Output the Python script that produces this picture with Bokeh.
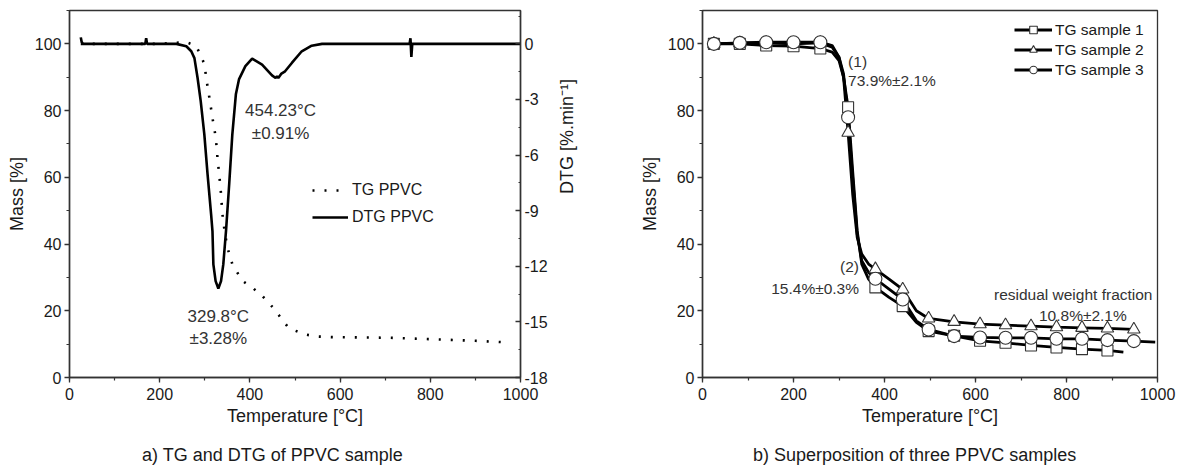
import math
from bokeh.plotting import figure
from bokeh.models import (Range1d, LinearAxis, SingleIntervalTicker, Legend,
                          LegendItem, PrintfTickFormatter, Div)
from bokeh.layouts import row, column
from bokeh.embed import file_html
from bokeh.resources import INLINE
from bokeh.core.properties import value

FONT = "Liberation Sans"
INK = "#1a1a1a"

# ---------------- data: panel a) TG / DTG of PPVC ----------------
tg_T = [25, 100, 200, 259, 281, 299, 304, 310, 314, 318, 323, 326, 328, 331, 334,
        336, 338, 340, 345, 350, 361, 383, 405, 427, 453, 468, 485, 501, 523, 547,
        580, 650, 712, 800, 900, 975]
tg_mass = [100, 100, 100, 100.5, 99.4, 94, 89, 84, 80.5, 77, 73, 69.5, 66, 62, 58,
           55, 51, 47.6, 43, 39, 34, 29, 27, 24.5, 20.7, 18, 15, 14, 12.9, 12.3,
           12.1, 12.0, 11.9, 11.5, 11.0, 10.5]

dtg_T = [25, 27, 30, 60, 100, 140, 168, 170, 172, 200, 237, 259, 270, 277, 284,
         291, 299, 306, 314, 317, 319, 324, 330, 336, 341, 347, 354, 361, 369, 376,
         390, 405, 427, 449, 457, 460, 463, 470, 478, 493, 515, 537, 560, 650, 754,
         756, 758, 760, 800, 900, 1000]
dtg_val = [0.35, 0.1, 0, 0, 0, 0, 0, 0.3, 0, 0, 0, -0.13, -0.4, -0.77, -1.84,
           -3.1, -4.9, -7.0, -9.2, -10.1, -11.9, -12.8, -13.2, -12.8, -11.9, -10.1,
           -7.6, -4.9, -2.7, -1.9, -1.2, -0.8, -1.12, -1.7, -1.84, -1.75, -1.84,
           -1.6, -1.48, -1.03, -0.4, -0.1, 0, 0, 0, 0.3, -0.7, 0, 0, 0, 0]

a_ann_T = [468, 468, 330, 330]
a_ann_mass = [80, 73, 18.3, 11.7]
a_ann_text = ["454.23°C", "±0.91%", "329.8°C", "±3.28%"]

# ---------------- data: panel b) three samples ----------------
line_T = [25, 82, 140, 200, 259, 285, 300, 310, 320, 330, 340, 350, 365, 380, 410,
          440, 470, 497, 553, 610, 666, 722, 778, 834, 890]
s1_line = [100, 100, 99.5, 99.3, 98.6, 97.5, 95, 90, 81, 62, 44, 34, 29.5, 27, 24,
           21.4, 16.5, 13.9, 12.5, 11, 10.4, 9.6, 9.0, 8.5, 8.1]
s2_line = [100, 100.2, 100.3, 100, 100.3, 99, 96, 90, 73.4, 55, 42, 37, 34, 32.5,
           29.5, 26.4, 20, 17.7, 16.7, 16, 15.7, 15.4, 15.1, 14.9, 14.7]
s3_line = [100, 100.3, 100.5, 100.5, 100.5, 99.5, 96, 91, 78, 60, 43, 35, 31.5,
           29.6, 26.5, 23.4, 17, 14.4, 12.4, 12, 11.9, 11.9, 11.6, 11.6, 11.2]
s1_tail_T, s1_tail = [925], [7.6]
s2_tail_T, s2_tail = [948], [14.4]
s3_tail_T, s3_tail = [948, 995], [10.9, 10.6]

mark_T = [25, 82, 140, 200, 259, 320, 380, 440, 497, 553, 610, 666, 722, 778, 834,
          890, 948]
s1_mark = [100, 100, 99.5, 99.3, 98.6, 81, 27, 21.4, 13.9, 12.5, 11, 10.4, 9.6,
           9.0, 8.5, 8.1]
s2_mark = [100, 100.2, 100.3, 100, 100.3, 73.4, 32.5, 26.4, 17.7, 16.7, 16, 15.7,
           15.4, 15.1, 14.9, 14.7, 14.4]
s3_mark = [100, 100.3, 100.5, 100.5, 100.5, 78, 29.6, 23.4, 14.4, 12.4, 12, 11.9,
           11.9, 11.6, 11.6, 11.2, 10.9]

b_ann_T = [320, 320, 344, 344, 989, 836]
b_ann_mass = [94.7, 89, 33.3, 26.7, 24.8, 18.7]
b_ann_text = ["(1)", "73.9%±2.1%", "(2)", "15.4%±0.3%", "residual weight fraction",
              "10.8%±2.1%"]
b_ann_align = ["left", "left", "right", "right", "right", "center"]

captions = ["a) TG and DTG of PPVC sample", "b) Superposition of three PPVC samples"]


def style_axis(ax, tick_in=0, tick_out=5):
    ax.axis_line_color = "#333333"
    ax.axis_line_width = 1.5
    ax.major_tick_line_color = "#333333"
    ax.minor_tick_line_color = "#333333"
    ax.major_tick_line_width = 1.3
    ax.minor_tick_line_width = 1.2
    ax.major_tick_in = tick_in
    ax.major_tick_out = tick_out
    ax.minor_tick_in = 2 if tick_in else 0
    ax.minor_tick_out = 0 if tick_in else 3
    ax.major_label_text_font = FONT
    ax.major_label_text_font_size = "16px"
    ax.major_label_text_color = INK
    ax.axis_label_text_font = FONT
    ax.axis_label_text_font_size = "18px"
    ax.axis_label_text_font_style = "normal"
    ax.axis_label_text_color = INK


def base_fig(left, right):
    p = figure(width=589, height=436, x_range=Range1d(0, 1000), y_range=Range1d(0, 110),
               output_backend="svg", toolbar_location=None,
               min_border_left=left, min_border_right=right,
               min_border_top=10, min_border_bottom=59)
    p.xgrid.visible = False
    p.ygrid.visible = False
    p.outline_line_color = "#333333"
    p.outline_line_width = 1.3
    p.xaxis.ticker = SingleIntervalTicker(interval=200, num_minor_ticks=2)
    p.yaxis.ticker = SingleIntervalTicker(interval=20, num_minor_ticks=2)
    p.xaxis.axis_label = "Temperature [°C]"
    p.yaxis.axis_label = "Mass [%]"
    style_axis(p.xaxis[0])
    style_axis(p.yaxis[0])
    p.xaxis.major_label_standoff = 5
    p.yaxis.major_label_standoff = 3
    p.xaxis.axis_label_standoff = 3
    p.yaxis.axis_label_standoff = 5
    return p


def caption_div(text, pad_left):
    return Div(text=text, width=589, height=32, margin=0,
               styles={"font-family": FONT, "font-size": "18px", "color": INK,
                       "padding-left": f"{pad_left}px", "padding-top": "9px",
                       "line-height": "20px", "white-space": "nowrap"})


# ---------------- panel a ----------------
p1 = base_fig(69, 65)
p1.extra_y_ranges = {"dtg": Range1d(-18, 1.8)}
dtg_axis = LinearAxis(y_range_name="dtg",
                      ticker=SingleIntervalTicker(interval=3, num_minor_ticks=2),
                      formatter=PrintfTickFormatter(format="%d"))
style_axis(dtg_axis, tick_in=5, tick_out=0)
dtg_axis.major_label_standoff = 4
dtg_axis.axis_label = "DTG [%.min⁻¹]"
dtg_axis.axis_label_standoff = 16
try:
    dtg_axis.axis_label_orientation = math.pi / 2
except AttributeError:
    pass
p1.add_layout(dtg_axis, "right")

r_tg = p1.line(tg_T, tg_mass, line_color="black", line_width=2.6, line_dash="2 10")
r_dtg = p1.line(dtg_T, dtg_val, y_range_name="dtg", line_color="black", line_width=2.6)

p1.text(x=a_ann_T, y=a_ann_mass, text=a_ann_text, text_font=value(FONT),
        text_font_size="17px", text_align="center", text_baseline="middle",
        text_color="#333333")

leg1 = Legend(items=[LegendItem(label="TG PPVC", renderers=[r_tg]),
                     LegendItem(label="DTG PPVC", renderers=[r_dtg])],
              location=(243, 150), glyph_width=36, glyph_height=20, label_height=20,
              label_standoff=4, spacing=7, padding=0, margin=0,
              border_line_color=None, background_fill_alpha=0,
              label_text_font=FONT, label_text_font_size="16px", label_text_color=INK)
p1.add_layout(leg1)

# ---------------- panel b ----------------
p2 = base_fig(113, 21)
lw = 2.8
l1 = p2.line(line_T + s1_tail_T, s1_line + s1_tail, line_color="black", line_width=lw)
l2 = p2.line(line_T + s2_tail_T, s2_line + s2_tail, line_color="black", line_width=lw)
l3 = p2.line(line_T + s3_tail_T, s3_line + s3_tail, line_color="black", line_width=lw)
m1 = p2.scatter(mark_T[:len(s1_mark)], s1_mark, marker="square", size=11,
                fill_color="white", line_color="#333333", line_width=1.1)
m2 = p2.scatter(mark_T, s2_mark, marker="triangle", size=12.5,
                fill_color="white", line_color="#333333", line_width=1.1)
m3 = p2.scatter(mark_T, s3_mark, marker="circle", size=13,
                fill_color="white", line_color="#333333", line_width=1.1)

p2.text(x=b_ann_T, y=b_ann_mass, text=b_ann_text, text_font=value(FONT),
        text_font_size="15.5px", text_align=b_ann_align, text_baseline="middle",
        text_color="#333333")

leg2 = Legend(items=[LegendItem(label="TG sample 1", renderers=[l1, m1]),
                     LegendItem(label="TG sample 2", renderers=[l2, m2]),
                     LegendItem(label="TG sample 3", renderers=[l3, m3])],
              location=(312, 298), glyph_width=38, glyph_height=19, label_height=19,
              label_standoff=3, spacing=1, padding=0, margin=0,
              border_line_color=None, background_fill_alpha=0,
              label_text_font=FONT, label_text_font_size="15.5px", label_text_color=INK)
p2.add_layout(leg2)

layout = column(row(p1, p2),
                row(caption_div(captions[0], 142), caption_div(captions[1], 164)))
open("out.html", "w").write(file_html(layout, INLINE))
